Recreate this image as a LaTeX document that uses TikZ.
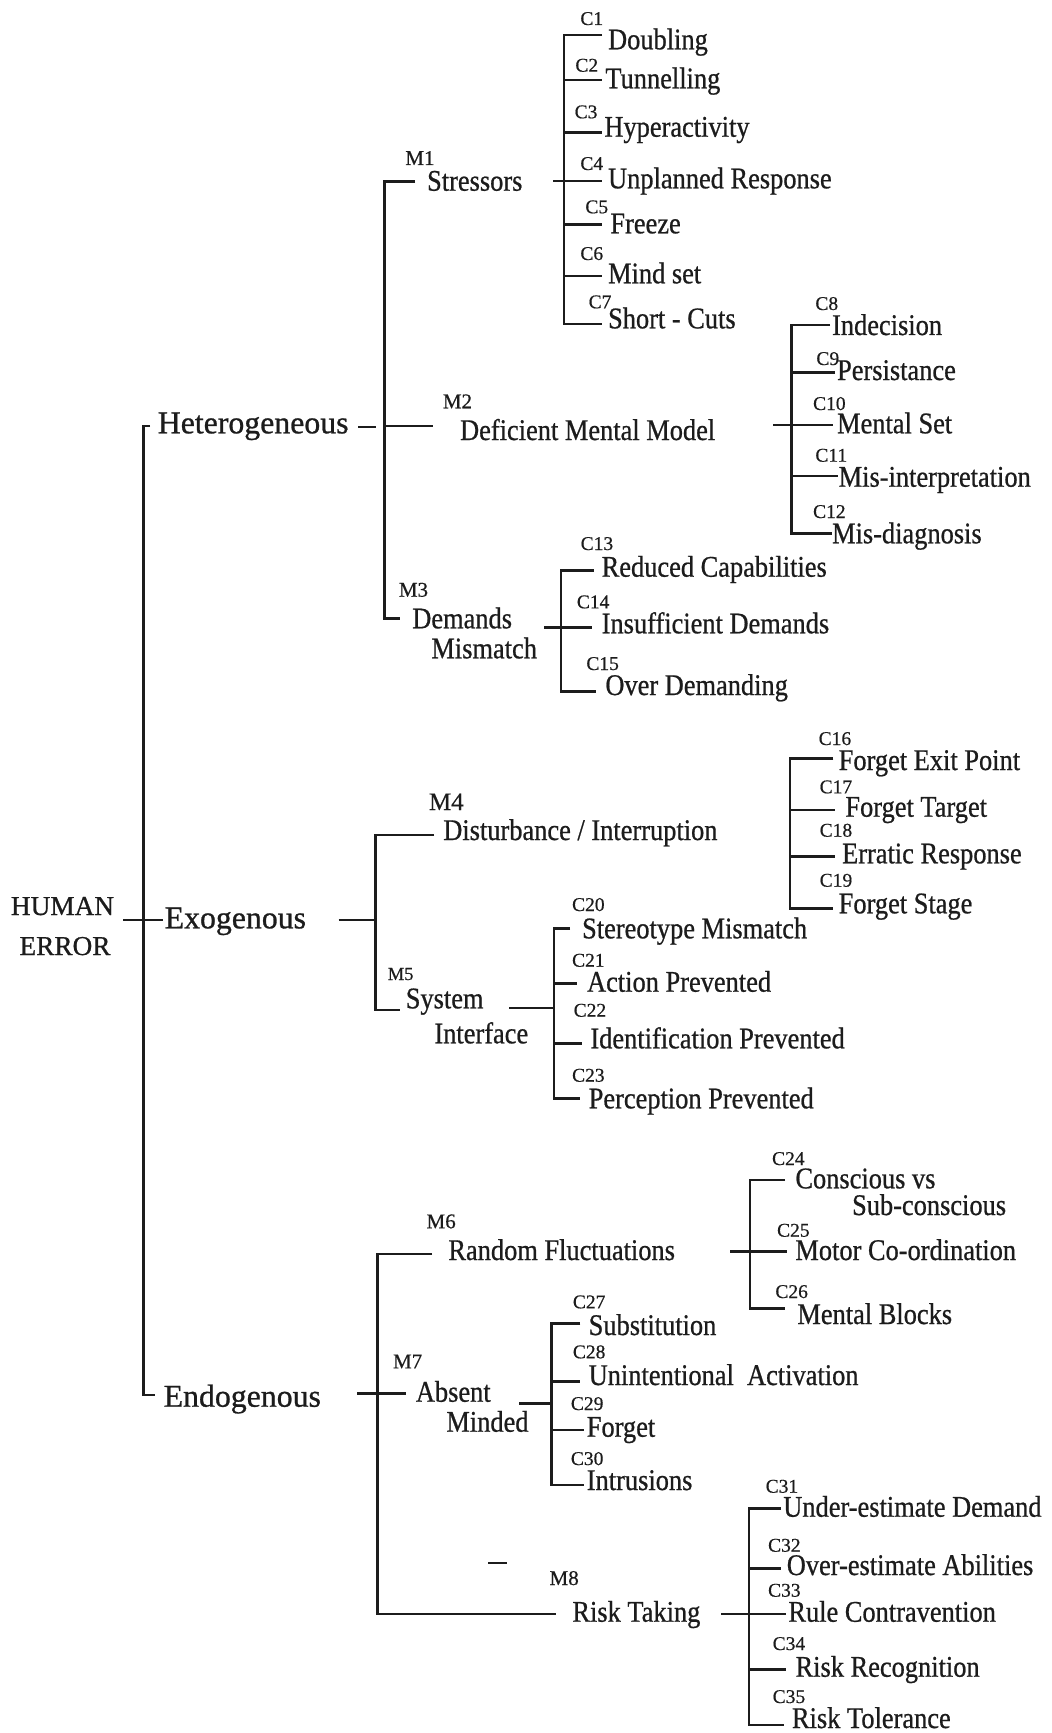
\documentclass[tikz,border=0pt]{standalone}
\usepackage{fontspec}
\setmainfont{Liberation Serif}[FakeBold=0.5]
\newfontfamily\narrowserif{Liberation Serif}[FakeStretch=0.88,FakeBold=0.7]
\newfontfamily\wideserif{Liberation Serif}[FakeBold=0.8]
\definecolor{ink}{HTML}{1C1C1C}
\tikzset{
  wire/.style={line width=1.3pt, draw=ink},
  rootlabel/.style={anchor=base, inner sep=0pt, text=ink, font=\wideserif\fontsize{13.65pt}{16pt}\selectfont},
  lvl/.style={anchor=base west, inner sep=0pt, text=ink, font=\wideserif\fontsize{15.9pt}{18pt}\selectfont},
  item/.style={anchor=base west, inner sep=0pt, text=ink, font=\narrowserif\fontsize{15pt}{18pt}\selectfont},
  tag/.style={anchor=base west, inner sep=0pt, text=ink, font=\fontsize{9.75pt}{11pt}\selectfont},
  mtag/.style={anchor=base west, inner sep=0pt, text=ink, font=\fontsize{10.5pt}{12pt}\selectfont},
}
\begin{document}
\begin{tikzpicture}[x=0.5pt,y=-0.5pt]
\fill[white] (0,0) rectangle (1051,1733);
\useasboundingbox (0,0) rectangle (1051,1733);

% ---------- root ----------
\node[rootlabel] (human) at (62.5,915) {HUMAN};
\node[rootlabel] (error) at (65,955) {ERROR};
\coordinate (rootin) at (123,920);
\coordinate (rootout) at (162.5,920);
\draw[wire] (rootin) -- (rootout);

\node[lvl] (het) at (157.4,433.3) {Heterogeneous};
\node[lvl] (exo) at (164.3,928.3) {Exogenous};
\node[lvl] (endo) at (163.3,1406.7) {Endogenous};
\coordinate (rtop) at (150,426);
\coordinate (rbot) at (155,1395);
\coordinate (rbar) at (143.5,920);
\draw[wire] (rtop) -- (rtop -| rbar) -- (rbot -| rbar) -- (rbot);

% ---------- Heterogeneous ----------
\coordinate (hetdashA) at (358.3,427);
\coordinate (hetdashB) at (375.5,427);
\draw[wire] (hetdashA) -- (hetdashB);
\coordinate (hbar) at (384.5,426);
\coordinate (m1e) at (415,181.7);
\coordinate (m2e) at (433,426);
\coordinate (m3e) at (400.4,618.3);
\draw[wire] (m1e) -- (m1e -| hbar) -- (m3e -| hbar) -- (m3e);
\draw[wire] (hbar) -- (m2e);
\node[mtag] (m1) at (405,165) {M1};
\node[item] (stressors) at (426.7,190.7) {Stressors};
\node[mtag] (m2) at (442.5,408.3) {M2};
\node[item] (deficient) at (459.7,440) {Deficient Mental Model};
\node[mtag] (m3) at (398.5,596.7) {M3};
\node[item] (demands) at (411.9,628.3) {Demands};
\node[item] (mismatch) at (431,658.3) {Mismatch};

% Stressors
\foreach \n/\lx/\ly/\tx/\ty/\sy/\se/\txt in {
  1/580/25/607.7/49.3/35/602/Doubling,
  2/575/71.7/605/88.3/80/602/Tunnelling,
  3/574.3/118.3/604/136.7/132.3/602/Hyperactivity,
  4/580/170/607.7/188.3/181/602/Unplanned Response,
  5/585/213.3/610/233.3/224.3/602/Freeze,
  6/580/260/607.7/283.3/276/602/Mind set,
  7/588.3/308.3/607.7/328.3/324/602/Short - Cuts}{
  \node[tag] (l\n) at (\lx,\ly) {C\n};
  \node[item] (c\n) at (\tx,\ty) {\txt};
  \coordinate (e\n) at (\se,\sy);
  \draw[wire] (564,\sy) -- (e\n);
}
\coordinate (sbar) at (564,181);
\coordinate (spar) at (553.3,181);
\draw[wire] (e1) -- (e1 -| sbar) -- (e7 -| sbar) -- (e7);
\draw[wire] (spar) -- (e4);

% Deficient Mental Model
\foreach \n/\lx/\ly/\tx/\ty/\sy/\se/\txt in {
  8/815/310/831.7/335/325/830/Indecision,
  9/816/365/836.7/380/372.7/835/Persistance,
  10/812.7/410/836.7/433.3/425/833/Mental Set,
  11/815/461.7/838.3/486.7/476/838/Mis-interpretation,
  12/812.7/518/831.7/543.3/533.3/831.7/Mis-diagnosis}{
  \node[tag] (l\n) at (\lx,\ly) {C\n};
  \node[item] (c\n) at (\tx,\ty) {\txt};
  \coordinate (e\n) at (\se,\sy);
  \draw[wire] (791.7,\sy) -- (e\n);
}
\coordinate (dbar) at (791.7,425);
\coordinate (dpar) at (773.3,425);
\draw[wire] (e8) -- (e8 -| dbar) -- (e12 -| dbar) -- (e12);
\draw[wire] (dpar) -- (e10);

% Demands Mismatch
\foreach \n/\lx/\ly/\tx/\ty/\sy/\se/\txt in {
  13/580.3/550/601.3/576.7/570.7/593.7/Reduced Capabilities,
  14/576.5/608.3/601.3/633.3/627.7/591.8/Insufficient Demands,
  15/586/670/605/695/691.7/595.6/Over Demanding}{
  \node[tag] (l\n) at (\lx,\ly) {C\n};
  \node[item] (c\n) at (\tx,\ty) {\txt};
  \coordinate (e\n) at (\se,\sy);
  \draw[wire] (561.1,\sy) -- (e\n);
}
\coordinate (xbar) at (561.1,627.7);
\coordinate (xpar) at (544,627.7);
\draw[wire] (e13) -- (e13 -| xbar) -- (e15 -| xbar) -- (e15);
\draw[wire] (xpar) -- (e14);

% ---------- Exogenous ----------
\coordinate (exoA) at (338.6,920);
\coordinate (ebar) at (375.7,920);
\draw[wire] (exoA) -- (ebar);
\coordinate (m4e) at (434,835);
\coordinate (m5e) at (400,1010);
\draw[wire] (m4e) -- (m4e -| ebar) -- (m5e -| ebar) -- (m5e);
\node[anchor=base west, inner sep=0pt, text=ink, font=\fontsize{12.5pt}{14pt}\selectfont] (m4) at (428.6,810) {M4};
\node[item] (disturb) at (442.9,840) {Disturbance / Interruption};
\node[mtag, font=\fontsize{9.2pt}{11pt}\selectfont] (m5) at (387.5,980) {M5};
\node[item] (system) at (405.4,1008.3) {System};
\node[item] (interface) at (434,1043.3) {Interface};

% Forget group
\foreach \n/\lx/\ly/\tx/\ty/\sy/\se/\txt in {
  16/818.3/745/838.3/770/758.3/833.3/Forget Exit Point,
  17/819.3/793.3/845/816.7/810/835/Forget Target,
  18/819.3/836.7/841.7/863.3/856.7/835/Erratic Response,
  19/819.3/886.7/838.3/913.3/908.3/833/Forget Stage}{
  \node[tag] (l\n) at (\lx,\ly) {C\n};
  \node[item] (c\n) at (\tx,\ty) {\txt};
  \coordinate (e\n) at (\se,\sy);
  \draw[wire] (790,\sy) -- (e\n);
}
\coordinate (fbar) at (790,830);
\draw[wire] (e16) -- (e16 -| fbar) -- (e19 -| fbar) -- (e19);

% System Interface
\foreach \n/\lx/\ly/\tx/\ty/\sy/\se/\txt in {
  20/571.7/911/581.7/938.3/928.3/570/Stereotype Mismatch,
  21/571.7/966.7/586.7/991.7/983.3/576.7/Action Prevented,
  22/573.3/1016.7/590/1048.3/1043.3/581.7/Identification Prevented,
  23/571.7/1081.7/588.3/1108.3/1098.3/580/Perception Prevented}{
  \node[tag] (l\n) at (\lx,\ly) {C\n};
  \node[item] (c\n) at (\tx,\ty) {\txt};
  \coordinate (e\n) at (\se,\sy);
  \draw[wire] (554,\sy) -- (e\n);
}
\coordinate (ybar) at (554,1008);
\coordinate (ypar) at (509,1008);
\draw[wire] (e20) -- (e20 -| ybar) -- (e23 -| ybar) -- (e23);
\draw[wire] (ypar) -- (ybar);

% ---------- Endogenous ----------
\coordinate (endoA) at (357,1393.3);
\coordinate (nbar) at (377.6,1393.3);
\coordinate (m6e) at (432,1254);
\coordinate (m7e) at (406.4,1393.3);
\coordinate (m8e) at (556.2,1614);
\draw[wire] (endoA) -- (m7e);
\draw[wire] (m6e) -- (m6e -| nbar) -- (m8e -| nbar) -- (m8e);
\coordinate (strayA) at (488,1563);
\coordinate (strayB) at (507,1563);
\draw[ink, line width=1pt] (strayA) -- (strayB);
\node[mtag] (m6) at (426.2,1228.3) {M6};
\node[item] (random) at (448,1260) {Random Fluctuations};
\node[mtag] (m7) at (392.6,1368.3) {M7};
\node[item] (absent) at (415.5,1401.7) {Absent};
\node[item] (minded) at (446,1431.7) {Minded};
\node[mtag] (m8) at (549.2,1585) {M8};
\node[item] (risk) at (572,1621.7) {Risk Taking};

% Random Fluctuations
\foreach \n/\lx/\ly/\tx/\ty/\sy/\se/\txt in {
  24/771.7/1165/795/1188.3/1180/785/Conscious vs,
  25/776.7/1236.7/795/1260/1251.7/786.7/Motor Co-ordination,
  26/775/1298/797/1324/1308.3/785/Mental Blocks}{
  \node[tag] (l\n) at (\lx,\ly) {C\n};
  \node[item] (c\n) at (\tx,\ty) {\txt};
  \coordinate (e\n) at (\se,\sy);
  \draw[wire] (750,\sy) -- (e\n);
}
\node[item] (c24b) at (851.7,1215) {Sub-conscious};
\coordinate (rbar2) at (750,1251.7);
\coordinate (rpar) at (730,1251.7);
\draw[wire] (e24) -- (e24 -| rbar2) -- (e26 -| rbar2) -- (e26);
\draw[wire] (rpar) -- (e25);

% Absent Minded
\foreach \n/\lx/\ly/\tx/\ty/\sy/\se/\txt in {
  27/572.5/1308.3/588.3/1335/1323.3/580.4/Substitution,
  28/572.5/1358.3/588.3/1385/1381.7/580.4/Unintentional~~Activation,
  29/570.5/1410/586.4/1436.7/1430/584/Forget,
  30/570.5/1465/586.4/1490/1485/584/Intrusions}{
  \node[tag] (l\n) at (\lx,\ly) {C\n};
  \node[item] (c\n) at (\tx,\ty) {\txt};
  \coordinate (e\n) at (\se,\sy);
  \draw[wire] (551.6,\sy) -- (e\n);
}
\coordinate (abar) at (551.6,1403.3);
\coordinate (apar) at (519,1403.3);
\draw[wire] (e27) -- (e27 -| abar) -- (e30 -| abar) -- (e30);
\draw[wire] (apar) -- (abar);

% Risk Taking
\foreach \n/\lx/\ly/\tx/\ty/\sy/\se/\txt in {
  31/765.3/1492.7/782.9/1516.7/1508.3/781/Under-estimate Demand,
  32/767.7/1551.7/786.4/1575/1568.3/781/Over-estimate Abilities,
  33/767.7/1596.7/788/1621.7/1614/786/Rule Contravention,
  34/772.3/1650/795.2/1676.7/1669.3/786.4/Risk Recognition}{
  \node[tag] (l\n) at (\lx,\ly) {C\n};
  \node[item] (c\n) at (\tx,\ty) {\txt};
  \coordinate (e\n) at (\se,\sy);
  \draw[wire] (748.8,\sy) -- (e\n);
}
\node[tag] (l35) at (772.3,1703) {C35};
\node[item, text depth=0pt] (c35) at (791.6,1728) {Risk Tolerance};
\coordinate (e35) at (784,1725);
\coordinate (kbar) at (748.8,1614);
\coordinate (kpar) at (721.4,1614);
\draw[wire] (e31) -- (e31 -| kbar) -- (e35 -| kbar) -- (e35);
\draw[wire] (kpar) -- (e33);
\end{tikzpicture}
\end{document}
